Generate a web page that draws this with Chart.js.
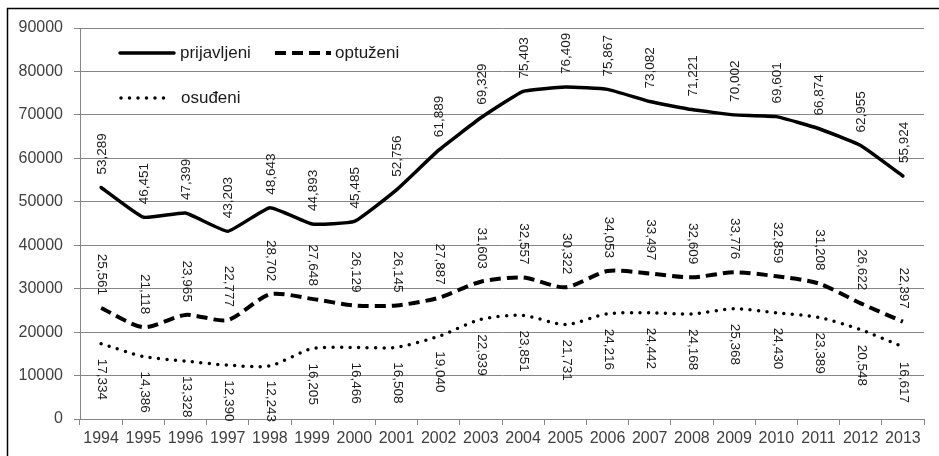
<!DOCTYPE html>
<html>
<head>
<meta charset="utf-8">
<script src="https://cdn.jsdelivr.net/npm/chart.js@4.4.1/dist/chart.umd.min.js"></script>
<style>
html,body{margin:0;padding:0;background:#fff;}
#wrap{position:relative;width:939px;height:456px;}
</style>
</head>
<body>
<div id="wrap"><canvas id="c" width="939" height="456"></canvas></div>
<script>
const years = ['1994','1995','1996','1997','1998','1999','2000','2001','2002','2003','2004','2005','2006','2007','2008','2009','2010','2011','2012','2013'];
const prijavljeni = [53289, 46451, 47399, 43203, 48643, 44893, 45485, 52756, 61889, 69329, 75403, 76409, 75867, 73082, 71221, 70002, 69601, 66874, 62955, 55924];
const optuzeni = [25561, 21118, 23965, 22777, 28702, 27648, 26129, 26145, 27887, 31603, 32557, 30322, 34053, 33497, 32609, 33776, 32859, 31208, 26622, 22397];
const osudeni = [17334, 14386, 13328, 12390, 12243, 16205, 16466, 16508, 19040, 22939, 23851, 21731, 24216, 24442, 24168, 25368, 24430, 23389, 20548, 16617];
const seriesNames = ['prijavljeni', 'optuženi', 'osuđeni'];
const yMin = 0, yMax = 90000, yStep = 10000;

const FONT = '"Liberation Sans", Arial, sans-serif';
const fmt = v => v.toString().replace(/\B(?=(\d{3})+(?!\d))/g, ',');

const labelModes = [
  {rot: -Math.PI/2, align: 'left', dy: -13},
  {rot: Math.PI/2, align: 'right', dy: -13},
  {rot: Math.PI/2, align: 'left', dy: 15}
];

const decor = {
  id: 'decor',
  beforeDraw(chart) {
    const ctx = chart.ctx;
    ctx.save();
    ctx.fillStyle = '#fff';
    ctx.fillRect(0, 0, chart.width, chart.height);
    ctx.strokeStyle = '#000';
    ctx.lineWidth = 1.5;
    ctx.beginPath();
    ctx.moveTo(7.5, 460);
    ctx.lineTo(7.5, 8.5);
    ctx.lineTo(939, 8.5);
    ctx.stroke();
    ctx.restore();
  },
  afterDatasetsDraw(chart) {
    const ctx = chart.ctx;
    ctx.save();
    ctx.fillStyle = '#1a1a1a';
    ctx.font = '13.5px ' + FONT;
    ctx.textBaseline = 'middle';
    chart.data.datasets.forEach((ds, i) => {
      const meta = chart.getDatasetMeta(i);
      const m = labelModes[i];
      meta.data.forEach((pt, j) => {
        ctx.save();
        ctx.translate(pt.x + 1, pt.y + m.dy);
        ctx.rotate(m.rot);
        ctx.textAlign = m.align;
        ctx.fillText(fmt(ds.data[j]), 0, 0);
        ctx.restore();
      });
    });
    const items = [
      {x1: 120, x2: 174, tx: 180, y: 53},
      {x1: 275, x2: 331, tx: 335, y: 53},
      {x1: 121, x2: 171, tx: 181, y: 98}
    ];
    ctx.font = '17px ' + FONT;
    ctx.textAlign = 'left';
    chart.data.datasets.forEach((ds, i) => {
      const it = items[i];
      ctx.save();
      ctx.strokeStyle = ds.borderColor;
      ctx.lineWidth = ds.borderWidth;
      ctx.setLineDash(ds.borderDash || []);
      ctx.lineCap = ds.borderCapStyle || 'butt';
      ctx.beginPath();
      ctx.moveTo(it.x1, it.y);
      ctx.lineTo(it.x2, it.y);
      ctx.stroke();
      ctx.restore();
      ctx.fillStyle = '#1a1a1a';
      ctx.fillText(ds.label, it.tx, it.y);
    });
    ctx.restore();
  }
};

new Chart(document.getElementById('c'), {
  type: 'line',
  data: {
    labels: years,
    datasets: [
      {label: seriesNames[0], data: prijavljeni, borderColor: '#000', borderWidth: 3.5, pointRadius: 0, tension: 0.12, borderCapStyle: 'round', borderJoinStyle: 'round'},
      {label: seriesNames[1], data: optuzeni, borderColor: '#000', borderWidth: 4, borderDash: [11, 6], pointRadius: 0, tension: 0.25},
      {label: seriesNames[2], data: osudeni, borderColor: '#000', borderWidth: 3.5, borderDash: [0, 8.5], borderCapStyle: 'round', pointRadius: 0, tension: 0.25}
    ]
  },
  options: {
    responsive: false,
    animation: false,
    events: [],
    layout: {padding: {left: 0, right: 15, top: 28, bottom: 0}},
    plugins: {legend: {display: false}, tooltip: {enabled: false}},
    scales: {
      x: {
        offset: true,
        grid: {display: true, offset: true, drawOnChartArea: false, drawTicks: true, tickLength: 6, color: '#868686', lineWidth: 1},
        border: {display: true, color: '#868686', width: 1},
        ticks: {color: '#404040', font: {family: FONT, size: 16}, padding: 4, maxRotation: 0, autoSkip: false},
        afterFit(s) { s.height = 37; }
      },
      y: {
        min: yMin, max: yMax,
        grid: {color: '#868686', lineWidth: 1, drawTicks: true, tickLength: 6},
        border: {display: true, color: '#868686', width: 1},
        ticks: {stepSize: yStep, color: '#404040', font: {family: FONT, size: 16}, padding: 11, callback: v => String(v)},
        afterFit(s) { s.width = 80; }
      }
    }
  },
  plugins: [decor]
});
</script>
</body>
</html>
